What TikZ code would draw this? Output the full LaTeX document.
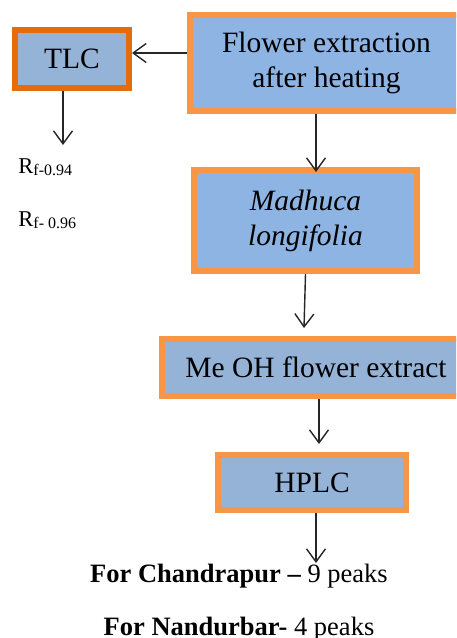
\documentclass[tikz,border=0pt]{standalone}
\usepackage{fontspec}
\setmainfont{Liberation Serif}
\usetikzlibrary{arrows.meta}
\definecolor{boxblue}{HTML}{8EB4E3}
\definecolor{boxgrey}{HTML}{95B3D7}
\definecolor{edgeorange}{HTML}{F79646}
\definecolor{edgedark}{HTML}{E46C0A}

\begin{document}
\begin{tikzpicture}[x=0.5pt, y=-0.5pt,
    stage/.style={draw=edgeorange, fill=boxblue, line width=3pt, inner sep=0pt,
      align=center, font=\fontsize{14.75}{17.5}\selectfont},
    flowarrow/.style={-{Straight Barb[length=6.5pt,width=9.5pt]}, line width=0.7pt, black!85},
    rfvalue/.style={anchor=base west, inner sep=0pt, font=\fontsize{11.3}{13}\selectfont},
    peaks/.style={anchor=base, inner sep=0pt, font=\fontsize{13.25}{15}\selectfont}]
  \useasboundingbox (0,0) rectangle (456,638);
  \clip (0,0) rectangle (456,638);
  % process boxes
  \node[stage, minimum width=136.5pt, minimum height=48pt] (flower) at (326.5,63)
    {Flower extraction\\after heating};
  \node[stage, draw=edgedark, fill=boxgrey, minimum width=57pt, minimum height=29pt] (tlc) at (72,59) {TLC};
  \node[stage, minimum width=111.5pt, minimum height=50.5pt] (madhuca) at (305.5,220.5)
    {\textit{Madhuca}\\\textit{longifolia}};
  \node[stage, fill=boxgrey, minimum width=154pt, minimum height=28.5pt] (meoh) at (316,367.5)
    {Me OH flower extract};
  \node[stage, fill=boxgrey, minimum width=94pt, minimum height=27.5pt] (hplc) at (312,482.5) {HPLC};
  % results
  \node[rfvalue] (rfa) at (18,173) {R\raisebox{-1pt}{\fontsize{8}{8}\selectfont f-0.94}};
  \node[rfvalue] (rfb) at (18,226) {R\raisebox{-1pt}{\fontsize{8}{8}\selectfont f- 0.96}};
  \node[peaks] (chandrapur) at (239,582) {\textbf{For Chandrapur –} 9 peaks};
  \node[peaks] (nandurbar) at (239,635) {\textbf{For Nandurbar-} 4 peaks};
  % arrows
  \coordinate (tlcend) at (63,145);
  \coordinate (hplcend) at (316,563);
  \draw[flowarrow] ([yshift=5pt]flower.west) -- ([yshift=3pt]tlc.east);
  \draw[flowarrow] ([xshift=-4.5pt]tlc.south) -- (tlcend);
  \draw[flowarrow] ([xshift=-5.25pt]flower.south) -- ([xshift=5.25pt,yshift=-2.5pt]madhuca.north);
  \draw[flowarrow] (madhuca.south) -- ([xshift=-6pt,yshift=4pt]meoh.north);
  \draw[flowarrow] ([xshift=1.5pt]meoh.south) -- ([xshift=3.5pt,yshift=4pt]hplc.north);
  \draw[flowarrow] ([xshift=2pt]hplc.south) -- (hplcend);
\end{tikzpicture}
\end{document}
